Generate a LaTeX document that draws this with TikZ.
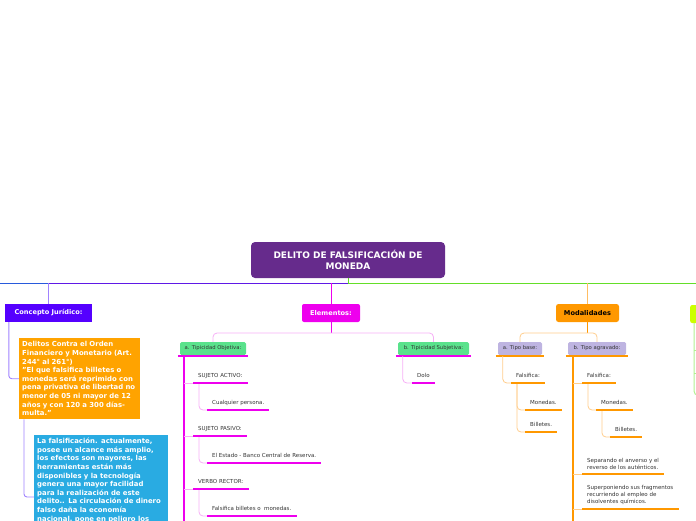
\documentclass[tikz,border=0pt]{standalone}
\usepackage{fontspec}
\setmainfont{DejaVu Sans}
\usetikzlibrary{positioning}

\definecolor{rootpurple}{RGB}{102,43,140}
\definecolor{conceptviolet}{RGB}{85,0,255}
\definecolor{violetline}{RGB}{95,25,230}
\definecolor{violetsoft}{RGB}{160,130,255}
\definecolor{mainblue}{RGB}{40,90,220}
\definecolor{mainmagenta}{RGB}{238,0,238}
\definecolor{magentasoft}{RGB}{246,175,246}
\definecolor{mintgreen}{RGB}{90,226,140}
\definecolor{mainorange}{RGB}{255,152,0}
\definecolor{orangesoft}{RGB}{255,205,140}
\definecolor{lavender}{RGB}{190,180,225}
\definecolor{skyblue}{RGB}{41,171,226}
\definecolor{boxorange}{RGB}{255,163,0}
\definecolor{maingreen}{RGB}{100,222,40}
\definecolor{greensoft}{RGB}{175,240,145}
\definecolor{limegreen}{RGB}{204,255,0}
\definecolor{leafgray}{RGB}{51,51,51}

\begin{document}
\begin{tikzpicture}[x=1pt,y=-1pt,
  rootbox/.style={fill=rootpurple, rounded corners=4pt, minimum width=194pt, minimum height=36pt, inner sep=0pt, text=white, align=center, font=\fontsize{9}{11}\selectfont\bfseries},
  topic/.style={inner sep=0pt, minimum height=18pt, text=white, font=\fontsize{6.6}{8}\selectfont\bfseries},
  subtopic/.style={inner sep=0pt, minimum height=13pt, rounded corners=1.5pt, text=leafgray, font=\fontsize{5.3}{6}\selectfont},
  leaf/.style={anchor=south west, inner xsep=5pt, inner ysep=4pt, text=leafgray, align=left, font=\fontsize{5.5}{7}\selectfont},
  oneline/.style={leaf, text height=4pt, text depth=1.2pt},
  textbox/.style={anchor=north west, inner sep=3pt, text=white, align=left, font=\fontsize{6.9}{8.6}\selectfont\bfseries},
  mthick/.style={mainmagenta, line width=1.8pt},
  mthin/.style={magentasoft, line width=0.8pt, rounded corners=4pt},
  othick/.style={mainorange, line width=1.8pt},
  othin/.style={orangesoft, line width=0.8pt, rounded corners=4pt},
  vthin/.style={violetsoft, line width=0.9pt, rounded corners=3pt}
]
\useasboundingbox (0,0) rectangle (696,520);

% Root
\node[rootbox] (root) at (348,260) {DELITO DE FALSIFICACIÓN DE\\MONEDA};
\coordinate (trunk) at (348,283);
\coordinate (leftend) at (0,283);
\coordinate (rightend) at (696,283);

% Main topics
\node[topic, fill=conceptviolet, minimum width=87pt] (concept) at (48.5,313) {Concepto Jurídico:};
\node[topic, fill=mainmagenta, rounded corners=2pt, minimum width=58pt] (elem) at (331,313) {Elementos:};
\node[topic, fill=mainorange, rounded corners=2.5pt, minimum width=63pt, text=black] (modal) at (587.5,313) {Modalidades};
\node[topic, fill=limegreen, rounded corners=2pt, minimum width=40pt, anchor=west] (rightnode) at (690,314) {};

% Trunk lines
\draw[maingreen, line width=1pt] (root.south) -- (trunk) -- (rightend);
\draw[violetline, line width=1pt] (trunk) -- (concept.north |- trunk);
\draw[mainblue, line width=1pt] (concept.north |- trunk) -- (leftend);
\draw[violetsoft, line width=1.2pt] (concept.north) -- (concept.north |- trunk);
\draw[mainmagenta, line width=0.9pt] (elem.north) -- (elem.north |- trunk);
\draw[orangesoft!70!mainorange, line width=1pt, rounded corners=3pt] (modal.north) -- (modal.north |- trunk);

% Concepto Juridico
\node[textbox, fill=boxorange, text width=115pt, minimum height=81pt] (defbox) at (19,338) {Delitos Contra el Orden\\Financiero y Monetario (Art.\\244° al 261°)\\"El que falsifica billetes o\\monedas será reprimido con\\pena privativa de libertad no\\menor de 05 ni mayor de 12\\años y con 120 a 300 días-\\multa."};
\node[textbox, fill=skyblue, text width=128pt] (histbox) at (34,435) {La falsificación. actualmente,\\posee un alcance más amplio,\\los efectos son mayores, las\\herramientas están más\\disponibles y la tecnología\\genera una mayor facilidad\\para la realización de este\\delito.. La circulación de dinero\\falso daña la economía\\nacional, pone en peligro los};
\draw[vthin] ([xshift=4pt]concept.south west) |- (defbox.west);
\draw[vthin] ([xshift=5pt]defbox.south west) |- ([yshift=-62pt]histbox.north west);

% Elementos
\coordinate (elemhub) at (331,333);
\node[subtopic, fill=mintgreen, minimum width=66pt] (tobj) at (213,348.5) {a. Tipicidad Objetiva:};
\node[subtopic, fill=mintgreen, minimum width=71pt] (tsub) at (433.5,348.5) {b. Tipicidad Subjetiva:};
\draw[mainmagenta, line width=0.9pt] (elem.south) -- (elemhub);
\draw[mthin] (tobj.north) |- (elemhub) -| (tsub.north);
\foreach \n in {tobj,tsub}
  \draw[mthick] ([xshift=-2pt,yshift=-1pt]\n.south west) -- ([xshift=2pt,yshift=-1pt]\n.south east);

\node[oneline] (sa) at (193,383) {SUJETO ACTIVO:};
\node[oneline] (cp) at (207,410) {Cualquier persona.};
\node[oneline] (sp) at (193,436) {SUJETO PASIVO:};
\node[oneline] (es) at (207,463) {El Estado - Banco Central de Reserva.};
\node[oneline] (vr) at (193,489) {VERBO RECTOR:};
\node[oneline] (fb) at (207,516) {Falsifica billetes o \ monedas.};
\node[oneline] (dolo) at (412,383) {Dolo};

\coordinate (objspine) at ([xshift=4pt,yshift=-1pt]tobj.south west);
\draw[mthick] (objspine) -- ++(0,200);
\foreach \n in {sa,sp,vr}
  \draw[mthin] (objspine |- \n.south west) -- (\n.south west);
\draw[mthin] ([xshift=6pt]sa.south west) |- (cp.south west);
\draw[mthin] ([xshift=6pt]sp.south west) |- (es.south west);
\draw[mthin] ([xshift=6pt]vr.south west) |- (fb.south west);
\draw[mthin] ([xshift=5pt,yshift=-1pt]tsub.south west) |- (dolo.south west);
\foreach \n in {sa,cp,sp,es,vr,fb,dolo}
  \draw[mthick] (\n.south west) -- (\n.south east);

% Modalidades
\coordinate (modhub) at (587.5,333);
\node[subtopic, fill=lavender, minimum width=44pt] (tbase) at (520,348.5) {a. Tipo base:};
\node[subtopic, fill=lavender, minimum width=58pt] (tagr) at (597,348.5) {b. Tipo agravado:};
\draw[mainorange, line width=0.9pt] (modal.south) -- (modhub);
\draw[othin] (tbase.north) |- (modhub) -| (tagr.north);
\foreach \n in {tbase,tagr}
  \draw[othick] ([xshift=-2pt,yshift=-1pt]\n.south west) -- ([xshift=2pt,yshift=-1pt]\n.south east);

\node[oneline] (bf) at (511,383) {Falsifica:};
\node[oneline] (bm) at (525,410) {Monedas.};
\node[oneline] (bb) at (525,432) {Billetes.};
\node[oneline] (af) at (582,383) {Falsifica:};
\node[oneline] (am) at (596,410) {Monedas.};
\node[oneline] (ab) at (610,437) {Billetes.};
\node[leaf] (sep) at (582,474) {Separando el anverso y el\\reverso de los auténticos.};
\node[leaf] (sup) at (582,509) {Superponiendo sus fragmentos\\recurriendo al empleo de\\disolventes químicos.};

\draw[othin] ([xshift=5pt,yshift=-1pt]tbase.south west) |- (bf.south west);
\draw[othin] ([xshift=6pt]bf.south west) |- (bm.south west);
\draw[othin] ([xshift=6pt]bf.south west) |- (bb.south west);
\coordinate (agrspine) at ([xshift=5pt,yshift=-1pt]tagr.south west);
\draw[othick] (agrspine) -- ++(0,200);
\foreach \n in {af,sep,sup}
  \draw[othin] (agrspine |- \n.south west) -- (\n.south west);
\draw[othin] ([xshift=6pt]af.south west) |- (am.south west);
\draw[othin] ([xshift=6pt]am.south west) |- (ab.south west);
\foreach \n in {bf,bm,bb,af,am,ab,sep,sup}
  \draw[othick] (\n.south west) -- (\n.south east);

% Right branch (cut by the page edge)
\coordinate (rightspine) at ([xshift=4pt]rightnode.south west);
\draw[greensoft, line width=1pt, rounded corners=4pt] (rightspine) |- ++(8,72);
\foreach \y in {350,373}
  \draw[greensoft, line width=0.8pt] (rightspine |- 0,\y) -- ++(6,0);

\end{tikzpicture}
\end{document}
